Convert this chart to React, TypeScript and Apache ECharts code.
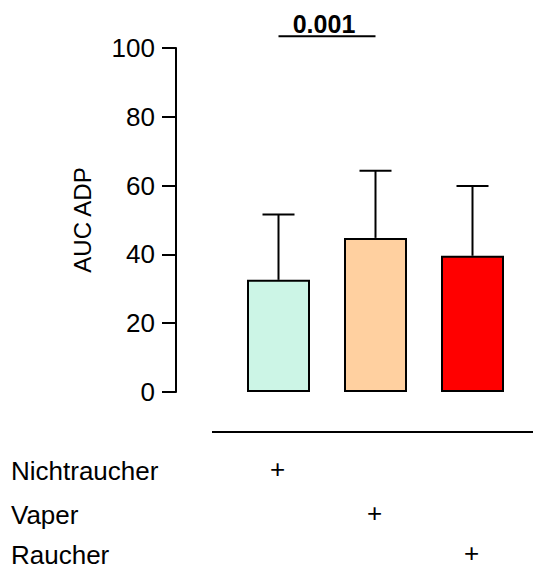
import React, { useEffect, useRef } from "react";
import * as echarts from "echarts";

const categories = ["Nichtraucher", "Vaper", "Raucher"];
const means = [32.6, 44.8, 39.6];
const sdUpper = [51.6, 64.3, 59.9];
const barColors = ["#CCF5E6", "#FFD0A0", "#FF0000"];
const yTicks = { min: 0, max: 100, interval: 20 };
const comparison = { from: 0, to: 1, level: 103.4, label: "0.001" };
const groupRows = ["Nichtraucher", "Vaper", "Raucher"];
const groupMembership = [
  [0, 0],
  [1, 1],
  [2, 2],
];

const FONT = "Liberation Sans, Arial, Helvetica, sans-serif";
const rowY = [471, 515, 555];

export default function App() {
  const ref = useRef<HTMLDivElement>(null);
  useEffect(() => {
    if (!ref.current) return;
    const chart = echarts.init(ref.current, null, { renderer: "svg" });
    chart.setOption({
      animation: false,
      backgroundColor: "#fff",
      grid: { left: 230, top: 48, width: 291, height: 344 },
      xAxis: {
        type: "category",
        data: categories,
        axisLine: { show: false },
        axisTick: { show: false },
        axisLabel: { show: false },
      },
      yAxis: {
        type: "value",
        min: yTicks.min,
        max: yTicks.max,
        interval: yTicks.interval,
        offset: 54,
        name: "AUC ADP",
        nameLocation: "middle",
        nameRotate: 90,
        nameGap: 82,
        nameTextStyle: { fontSize: 24, color: "#000", fontFamily: FONT },
        axisLine: { show: true, lineStyle: { color: "#000", width: 2 } },
        axisTick: { show: true, length: 14, lineStyle: { color: "#000", width: 2 } },
        axisLabel: { fontSize: 26, color: "#000", fontFamily: FONT, margin: 21 },
        splitLine: { show: false },
      },
      graphic: [
        {
          type: "line",
          shape: { x1: 212, y1: 432, x2: 533, y2: 432 },
          style: { stroke: "#000", lineWidth: 2 },
        },
        ...groupRows.map((r, i) => ({
          type: "text",
          x: 11,
          y: rowY[i],
          style: {
            text: r,
            fontSize: 26,
            fontFamily: FONT,
            fill: "#000",
            verticalAlign: "middle",
            align: "left",
          },
        })),
      ],
      series: [
        {
          type: "bar",
          data: means.map((v, i) => ({
            value: v,
            itemStyle: { color: barColors[i] },
          })),
          barWidth: 63,
          itemStyle: { borderColor: "#000", borderWidth: 2 },
          z: 2,
        },
        {
          type: "custom",
          z: 3,
          clip: false,
          data: means.map((m, i) => [i, m, sdUpper[i]]),
          renderItem: (params: any, api: any) => {
            const x = api.value(0);
            const lo = api.coord([x, api.value(1)]);
            const hi = api.coord([x, api.value(2)]);
            const cap = 16;
            return {
              type: "group",
              children: [
                {
                  type: "line",
                  shape: { x1: lo[0], y1: lo[1], x2: hi[0], y2: hi[1] },
                  style: { stroke: "#000", lineWidth: 2 },
                },
                {
                  type: "line",
                  shape: { x1: hi[0] - cap, y1: hi[1], x2: hi[0] + cap, y2: hi[1] },
                  style: { stroke: "#000", lineWidth: 2 },
                },
              ],
            };
          },
        },
        {
          type: "custom",
          z: 3,
          clip: false,
          data: [[comparison.from, comparison.to, comparison.level]],
          renderItem: (params: any, api: any) => {
            const a = api.coord([api.value(0), api.value(2)]);
            const b = api.coord([api.value(1), api.value(2)]);
            return {
              type: "group",
              children: [
                {
                  type: "line",
                  shape: { x1: a[0], y1: a[1], x2: b[0], y2: b[1] },
                  style: { stroke: "#000", lineWidth: 2 },
                },
                {
                  type: "text",
                  x: (a[0] + b[0]) / 2 - 3,
                  y: a[1] - 12,
                  style: {
                    text: comparison.label,
                    fontSize: 25,
                    fontWeight: "bold",
                    fontFamily: FONT,
                    fill: "#000",
                    align: "center",
                    verticalAlign: "middle",
                  },
                },
              ],
            };
          },
        },
        {
          type: "custom",
          z: 3,
          clip: false,
          data: groupMembership,
          renderItem: (params: any, api: any) => {
            const p = api.coord([api.value(0), 0]);
            const row = api.value(1);
            return {
              type: "text",
              x: p[0] - 1,
              y: rowY[row] - 2,
              style: {
                text: "+",
                fontSize: 26,
                fontFamily: FONT,
                fill: "#000",
                align: "center",
                verticalAlign: "middle",
              },
            };
          },
        },
      ],
    });
    return () => chart.dispose();
  }, []);
  return (
    <div
      ref={ref}
      style={{ position: "fixed", left: 0, top: 0, width: 533, height: 570 }}
    />
  );
}
